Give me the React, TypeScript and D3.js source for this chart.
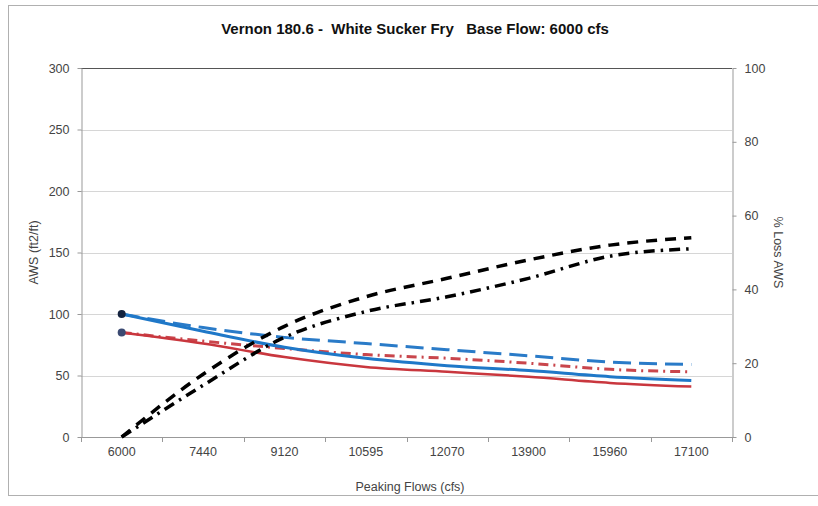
import { useRef, useEffect, FC } from 'react';
import * as d3 from 'd3';

const flows = ['6000', '7440', '9120', '10595', '12070', '13900', '15960', '17100'];

// AWS (ft2/ft), left axis
const awsBlue = [100, 86, 73, 64, 58, 54, 49, 46];
const awsRed = [85, 76, 65, 57, 53, 49, 44, 41];
const awsBlueDash = [100, 89, 81, 76, 71, 66, 61, 59];
const awsRedDashDot = [85, 78, 72, 67, 64, 60, 55, 53];

// % Loss AWS, right axis
const lossDash = [0, 17, 30, 38, 43, 48, 52, 54];
const lossDashDot = [0, 14, 27, 34, 38, 43, 49, 51];

const leftTicks = [0, 50, 100, 150, 200, 250, 300];
const rightTicks = [0, 20, 40, 60, 80, 100];

const W = 818;
const H = 506;
const M = { left: 81, right: 732, top: 68, bottom: 437 };
const FONT = '"Liberation Sans Narrow", "Liberation Sans", Arial, sans-serif';

const App: FC = () => {
  const svgRef = useRef<SVGSVGElement | null>(null);

  useEffect(() => {
    const svg = d3.select(svgRef.current);
    svg.selectAll('*').remove();

    const x = d3.scalePoint<string>().domain(flows).range([M.left, M.right]).padding(0.5);
    const yL = d3.scaleLinear().domain([0, 300]).range([M.bottom, M.top]);
    const yR = d3.scaleLinear().domain([0, 100]).range([M.bottom, M.top]);

    // outer frame
    svg
      .append('rect')
      .attr('x', 8.5)
      .attr('y', 5.5)
      .attr('width', 820)
      .attr('height', 490)
      .attr('fill', 'white')
      .attr('stroke', '#b0b0b0');

    // gridlines
    svg
      .append('g')
      .selectAll('line')
      .data(leftTicks.filter(t => t > 0 && t < 300))
      .join('line')
      .attr('x1', M.left)
      .attr('x2', M.right)
      .attr('y1', d => Math.round(yL(d)) + 0.5)
      .attr('y2', d => Math.round(yL(d)) + 0.5)
      .attr('stroke', '#d6d6d6');

    // top border of plot
    svg
      .append('line')
      .attr('x1', M.left)
      .attr('x2', M.right)
      .attr('y1', M.top + 0.5)
      .attr('y2', M.top + 0.5)
      .attr('stroke', '#555');

    const axisStyle = (g: d3.Selection<SVGGElement, unknown, null, undefined>) => {
      g.select('.domain').attr('stroke', '#999');
      g.selectAll('.tick line').attr('stroke', '#999');
      g.selectAll('.tick text')
        .attr('fill', '#444')
        .style('font-family', FONT)
        .style('font-size', '12.5px');
    };

    svg
      .append('g')
      .attr('transform', `translate(${M.left + 0.5},0)`)
      .call(d3.axisLeft(yL).tickValues(leftTicks).tickSize(4).tickSizeOuter(0).tickPadding(8))
      .call(axisStyle);

    svg
      .append('g')
      .attr('transform', `translate(${M.right + 0.5},0)`)
      .call(d3.axisRight(yR).tickValues(rightTicks).tickSize(4).tickSizeOuter(0).tickPadding(8))
      .call(axisStyle);

    // x axis: ticks between categories
    const step = x.step();
    const gx = svg.append('g');
    gx.append('line')
      .attr('x1', M.left)
      .attr('x2', M.right)
      .attr('y1', M.bottom + 0.5)
      .attr('y2', M.bottom + 0.5)
      .attr('stroke', '#999');
    gx.selectAll('line.tk')
      .data(d3.range(flows.length + 1))
      .join('line')
      .attr('class', 'tk')
      .attr('x1', i => Math.round(M.left + step * i) + 0.5)
      .attr('x2', i => Math.round(M.left + step * i) + 0.5)
      .attr('y1', M.bottom)
      .attr('y2', M.bottom + 5)
      .attr('stroke', '#999');
    gx.selectAll('text')
      .data(flows)
      .join('text')
      .attr('x', d => x(d)!)
      .attr('y', M.bottom + 19)
      .attr('text-anchor', 'middle')
      .attr('fill', '#444')
      .style('font-family', FONT)
      .style('font-size', '12.5px')
      .text(d => d);

    const lineL = d3
      .line<number>()
      .x((_d, i) => x(flows[i])!)
      .y(d => yL(d))
      .curve(d3.curveMonotoneX);
    const lineR = d3
      .line<number>()
      .x((_d, i) => x(flows[i])!)
      .y(d => yR(d))
      .curve(d3.curveMonotoneX);

    const series = [
      { data: awsBlueDash, gen: lineL, color: '#2a7bc8', dash: '18,8', w: 3 },
      { data: awsRedDashDot, gen: lineL, color: '#c9464c', dash: '10,5,2,5', w: 3 },
      { data: awsRed, gen: lineL, color: '#c9373e', dash: null, w: 2.5 },
      { data: awsBlue, gen: lineL, color: '#1f78c8', dash: null, w: 3 },
      { data: lossDash, gen: lineR, color: '#000', dash: '11,8', w: 3.5 },
      { data: lossDashDot, gen: lineR, color: '#000', dash: '11,6,2.5,6', w: 3.5 },
    ];

    svg
      .append('g')
      .selectAll('path')
      .data(series)
      .join('path')
      .attr('d', s => s.gen(s.data))
      .attr('fill', 'none')
      .attr('stroke', s => s.color)
      .attr('stroke-width', s => s.w)
      .attr('stroke-dasharray', s => s.dash)
      .attr('stroke-linejoin', 'round');

    // start markers
    svg
      .append('g')
      .selectAll('circle')
      .data([
        { v: awsBlue[0], c: '#14233f' },
        { v: awsRed[0], c: '#3b4a72' },
      ])
      .join('circle')
      .attr('cx', x(flows[0])!)
      .attr('cy', d => yL(d.v))
      .attr('r', 4)
      .attr('fill', d => d.c);

    // texts
    svg
      .append('text')
      .attr('x', 415)
      .attr('y', 34)
      .attr('text-anchor', 'middle')
      .attr('fill', '#111')
      .style('font-family', FONT)
      .style('font-size', '15px')
      .style('font-weight', 'bold')
      .style('white-space', 'pre')
      .text('Vernon 180.6 -  White Sucker Fry   Base Flow: 6000 cfs');

    svg
      .append('text')
      .attr('transform', `translate(38,${(M.top + M.bottom) / 2}) rotate(-90)`)
      .attr('text-anchor', 'middle')
      .attr('fill', '#444')
      .style('font-family', FONT)
      .style('font-size', '12.5px')
      .text('AWS (ft2/ft)');

    svg
      .append('text')
      .attr('transform', `translate(774,${(M.top + M.bottom) / 2}) rotate(90)`)
      .attr('text-anchor', 'middle')
      .attr('fill', '#444')
      .style('font-family', FONT)
      .style('font-size', '12.5px')
      .text('% Loss AWS');

    svg
      .append('text')
      .attr('x', 410)
      .attr('y', 491)
      .attr('text-anchor', 'middle')
      .attr('fill', '#444')
      .style('font-family', FONT)
      .style('font-size', '12.5px')
      .text('Peaking Flows (cfs)');
  }, []);

  return (
    <svg
      ref={svgRef}
      width={W}
      height={H}
      style={{ position: 'absolute', left: 0, top: 0, background: 'white' }}
    ></svg>
  );
};

export default App;
